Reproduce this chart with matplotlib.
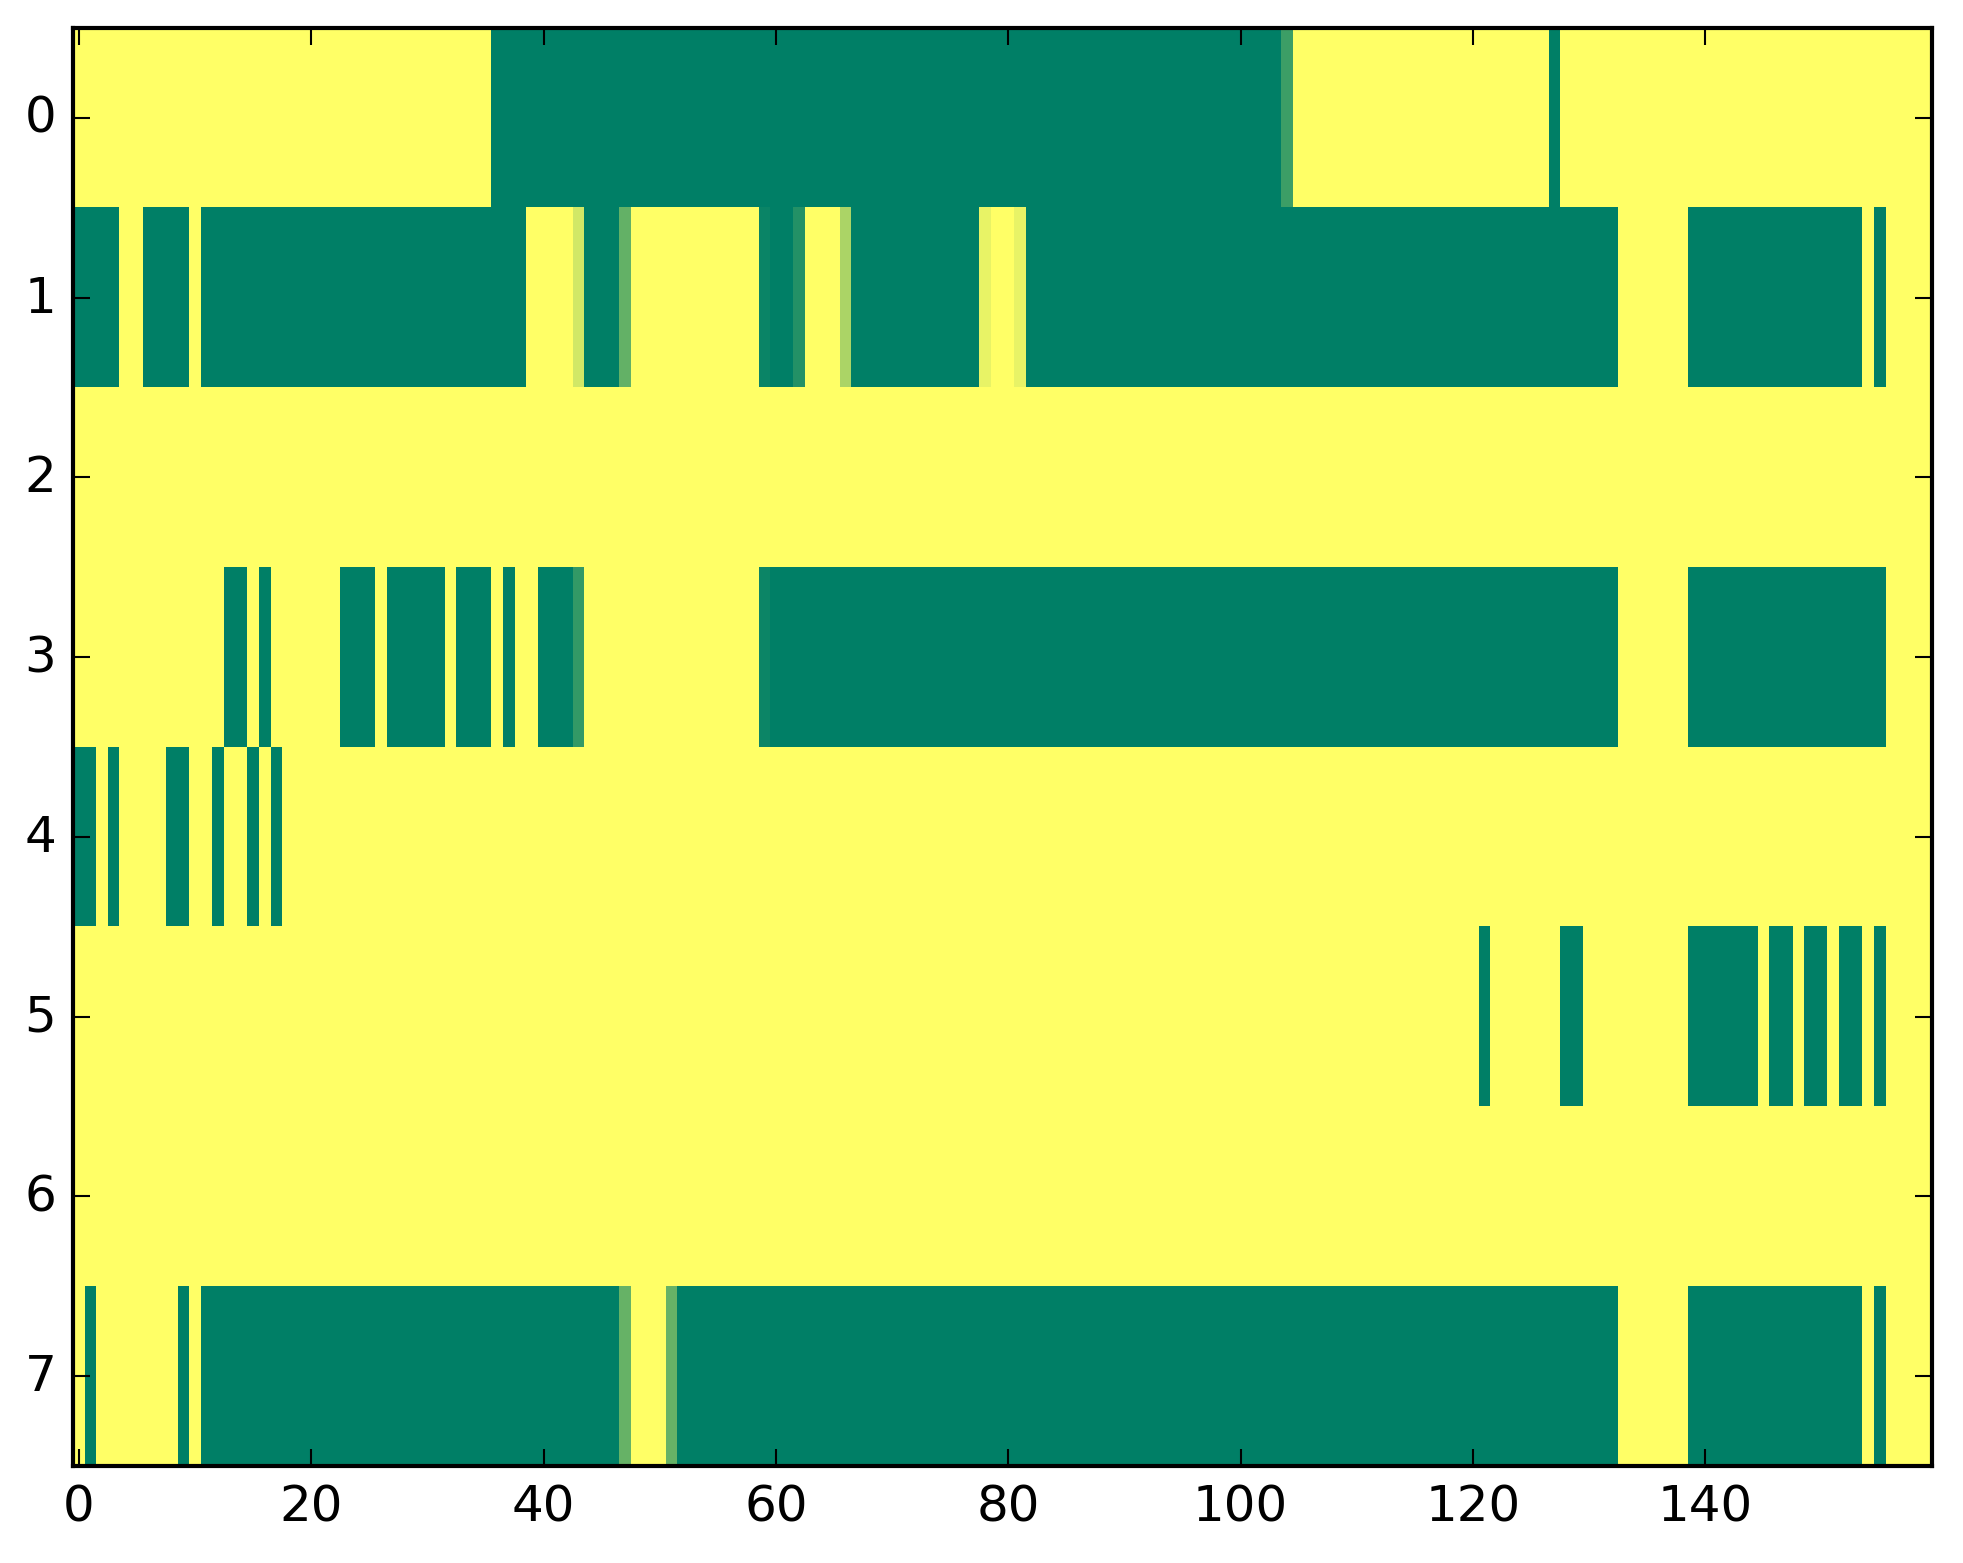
import numpy as np
import matplotlib
matplotlib.use("Agg")
import matplotlib.pyplot as plt

plt.style.use("classic")
plt.rcParams['font.family'] = ['DejaVu Sans']

# Cell values per row (1 = yellow, 0 = green on the 'summer' colormap)
row0 = [
    1,1,1,1,1,1,1,1,1,1,1,1,1,1,1,1,1,1,1,1,
    1,1,1,1,1,1,1,1,1,1,1,1,1,1,1,1,0,0,0,0,
    0,0,0,0,0,0,0,0,0,0,0,0,0,0,0,0,0,0,0,0,
    0,0,0,0,0,0,0,0,0,0,0,0,0,0,0,0,0,0,0,0,
    0,0,0,0,0,0,0,0,0,0,0,0,0,0,0,0,0,0,0,0,
    0,0,0,0,0.24,1,1,1,1,1,1,1,1,1,1,1,1,1,1,1,
    1,1,1,1,1,1,1,0,1,1,1,1,1,1,1,1,1,1,1,1,
    1,1,1,1,1,1,1,1,1,1,1,1,1,1,1,1,1,1,1,1,
]
row1 = [
    0,0,0,0,1,1,0,0,0,0,1,0,0,0,0,0,0,0,0,0,
    0,0,0,0,0,0,0,0,0,0,0,0,0,0,0,0,0,0,0,1,
    1,1,1,0.82,0,0,0,0.39,1,1,1,1,1,1,1,1,1,1,1,0.04,
    0,0,0.14,1,1,1,0.67,0,0,0,0,0,0,0,0,0,0,0,0.91,1,
    1,0.91,0,0,0,0,0,0,0,0,0,0,0,0,0,0,0,0,0,0,
    0,0,0,0,0,0,0,0,0,0,0,0,0,0,0,0,0,0,0,0,
    0,0,0,0,0,0,0,0,0,0,0,0,0,1,1,1,1,1,1,0,
    0,0,0,0,0,0,0,0,0,0,0,0,0,0,1,0,1,1,1,1,
]
row2 = [
    1,1,1,1,1,1,1,1,1,1,1,1,1,1,1,1,1,1,1,1,
    1,1,1,1,1,1,1,1,1,1,1,1,1,1,1,1,1,1,1,1,
    1,1,1,1,1,1,1,1,1,1,1,1,1,1,1,1,1,1,1,1,
    1,1,1,1,1,1,1,1,1,1,1,1,1,1,1,1,1,1,1,1,
    1,1,1,1,1,1,1,1,1,1,1,1,1,1,1,1,1,1,1,1,
    1,1,1,1,1,1,1,1,1,1,1,1,1,1,1,1,1,1,1,1,
    1,1,1,1,1,1,1,1,1,1,1,1,1,1,1,1,1,1,1,1,
    1,1,1,1,1,1,1,1,1,1,1,1,1,1,1,1,1,1,1,1,
]
row3 = [
    1,1,1,1,1,1,1,1,1,1,1,1,1,0,0,1,0,1,1,1,
    1,1,1,0,0,0,1,0,0,0,0,0,1,0,0,0,1,0,1,1,
    0,0,0,0.2,1,1,1,1,1,1,1,1,1,1,1,1,1,1,1,0.05,
    0,0,0,0,0,0,0,0,0,0,0,0,0,0,0,0,0,0,0,0,
    0,0,0,0,0,0,0,0,0,0,0,0,0,0,0,0,0,0,0,0,
    0,0,0,0,0,0,0,0,0,0,0,0,0,0,0,0,0,0,0,0,
    0,0,0,0,0,0,0,0,0,0,0,0,0,1,1,1,1,1,1,0,
    0,0,0,0,0,0,0,0,0,0,0,0,0,0,0,0,1,1,1,1,
]
row4 = [
    0,0,1,0,1,1,1,1,0,0,1,1,0,1,1,0,1,0,1,1,
    1,1,1,1,1,1,1,1,1,1,1,1,1,1,1,1,1,1,1,1,
    1,1,1,1,1,1,1,1,1,1,1,1,1,1,1,1,1,1,1,1,
    1,1,1,1,1,1,1,1,1,1,1,1,1,1,1,1,1,1,1,1,
    1,1,1,1,1,1,1,1,1,1,1,1,1,1,1,1,1,1,1,1,
    1,1,1,1,1,1,1,1,1,1,1,1,1,1,1,1,1,1,1,1,
    1,1,1,1,1,1,1,1,1,1,1,1,1,1,1,1,1,1,1,1,
    1,1,1,1,1,1,1,1,1,1,1,1,1,1,1,1,1,1,1,1,
]
row5 = [
    1,1,1,1,1,1,1,1,1,1,1,1,1,1,1,1,1,1,1,1,
    1,1,1,1,1,1,1,1,1,1,1,1,1,1,1,1,1,1,1,1,
    1,1,1,1,1,1,1,1,1,1,1,1,1,1,1,1,1,1,1,1,
    1,1,1,1,1,1,1,1,1,1,1,1,1,1,1,1,1,1,1,1,
    1,1,1,1,1,1,1,1,1,1,1,1,1,1,1,1,1,1,1,1,
    1,1,1,1,1,1,1,1,1,1,1,1,1,1,1,1,1,1,1,1,
    1,0,1,1,1,1,1,1,0,0,1,1,1,1,1,1,1,1,1,0,
    0,0,0,0,0,1,0,0,1,0,0,1,0,0,1,0,1,1,1,1,
]
row6 = [
    1,1,1,1,1,1,1,1,1,1,1,1,1,1,1,1,1,1,1,1,
    1,1,1,1,1,1,1,1,1,1,1,1,1,1,1,1,1,1,1,1,
    1,1,1,1,1,1,1,1,1,1,1,1,1,1,1,1,1,1,1,1,
    1,1,1,1,1,1,1,1,1,1,1,1,1,1,1,1,1,1,1,1,
    1,1,1,1,1,1,1,1,1,1,1,1,1,1,1,1,1,1,1,1,
    1,1,1,1,1,1,1,1,1,1,1,1,1,1,1,1,1,1,1,1,
    1,1,1,1,1,1,1,1,1,1,1,1,1,1,1,1,1,1,1,1,
    1,1,1,1,1,1,1,1,1,1,1,1,1,1,1,1,1,1,1,1,
]
row7 = [
    1,0,1,1,1,1,1,1,1,0,1,0,0,0,0,0,0,0,0,0,
    0,0,0,0,0,0,0,0,0,0,0,0,0,0,0,0,0,0,0,0,
    0,0,0,0,0,0,0,0.4,1,1,1,0.4,0,0,0,0,0,0,0,0,
    0,0,0,0,0,0,0,0,0,0,0,0,0,0,0,0,0,0,0,0,
    0,0,0,0,0,0,0,0,0,0,0,0,0,0,0,0,0,0,0,0,
    0,0,0,0,0,0,0,0,0,0,0,0,0,0,0,0,0,0,0,0,
    0,0,0,0,0,0,0,0,0,0,0,0,0,1,1,1,1,1,1,0,
    0,0,0,0,0,0,0,0,0,0,0,0,0,0,1,0,1,1,1,1,
]

rows = [row0, row1, row2, row3, row4, row5, row6, row7]
xticks = [0, 20, 40, 60, 80, 100, 120, 140]
yticks = [0, 1, 2, 3, 4, 5, 6, 7]

data = np.array(rows, dtype=float)

fig = plt.figure(figsize=(1963/300, 1564/300), dpi=300, facecolor='white')
ax = fig.add_axes([73/1963, 1 - 1467/1564, (1932-73)/1963, (1467-29)/1564])
ax.imshow(data, cmap='summer', vmin=0, vmax=1, aspect='auto',
          interpolation='nearest')
ax.set_xticks(xticks)
ax.set_yticks(yticks)
ax.tick_params(direction='in', top=True, right=True, labelsize=12)
for s in ax.spines.values():
    s.set_linewidth(1.0)

fig.savefig('out.png', dpi=300, facecolor='white')
